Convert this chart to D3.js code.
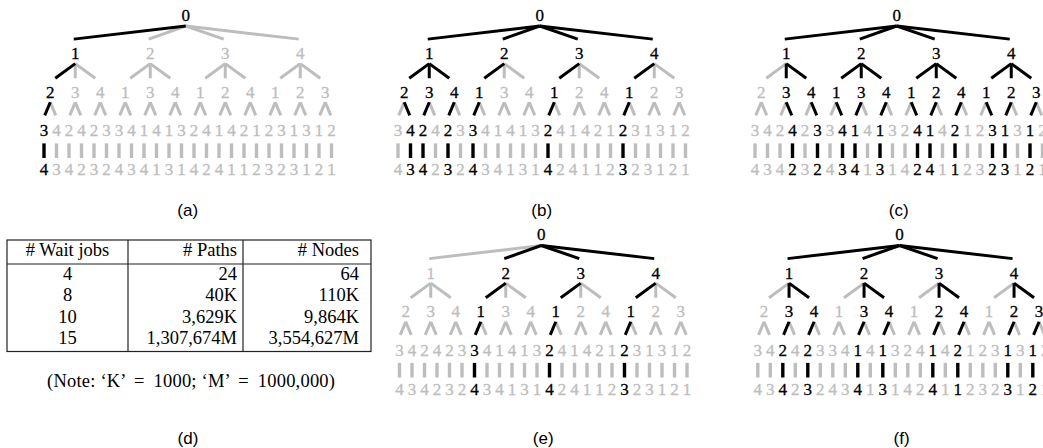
<!DOCTYPE html>
<html>
<head>
<meta charset="utf-8">
<script src="https://cdn.jsdelivr.net/npm/d3@7"></script>
<style>
  body { margin: 0; background: #fff; }
  svg { display: block; }
  .lbl { font-family: "Liberation Serif", "Times New Roman", serif; font-size: 17px; text-anchor: middle; stroke-width: 0.3px; }
  .cap { font-family: "Liberation Sans", Arial, sans-serif; font-size: 17px; text-anchor: middle; }
  .tbl { font-family: "Liberation Serif", "Times New Roman", serif; font-size: 18.5px; }
</style>
</head>
<body>
<svg id="fig" width="1043" height="448"></svg>
<script>
// node labels of the permutation tree, level by level, left to right
const level1 = [1, 2, 3, 4];
const level2 = [2, 3, 4, 1, 3, 4, 1, 2, 4, 1, 2, 3];
const level3 = [3, 4, 2, 4, 2, 3, 3, 4, 1, 4, 1, 3, 2, 4, 1, 4, 2, 1, 2, 3, 1, 3, 1, 2];
const level4 = [4, 3, 4, 2, 3, 2, 4, 3, 4, 1, 3, 1, 4, 2, 4, 1, 1, 2, 3, 2, 3, 1, 2, 1];

// leaves whose path from the root is drawn in black, per panel
const pathsA = [0];
const pathsB = [1, 2, 4, 6, 12, 18];
const pathsC = [3, 5, 7, 8, 10, 13, 14, 16, 19, 20, 22];
const pathsE = [6, 12, 18];
const pathsF = [2, 4, 8, 10, 14, 16, 20, 22];

// table (d)
const tableHeader = ["# Wait jobs", "# Paths", "# Nodes"];
const waitJobs = ["4", "8", "10", "15"];
const numPaths = ["24", "40K", "3,629K", "1,307,674M"];
const numNodes = ["64", "110K", "9,864K", "3,554,627M"];
const note = "(Note: \u2018K\u2019 \u2009=\u2009 1000; \u2018M\u2019 \u2009=\u2009 1000,000)";

const black = "#000",
  gray = "#bdbdbd";

const svg = d3.select("#fig");

function drawTree(left, top, paths, caption) {
  const g = svg.append("g");
  const x = d3.scaleLinear().domain([0, 23]).range([left, left + 23 * 12.5]);
  const y = d3.scaleLinear().domain([0, 4]).range([top + 20.5, top + 175]);

  const on3 = new Set(paths);
  const on2 = new Set(paths.map((p) => Math.floor(p / 2)));
  const on1 = new Set(paths.map((p) => Math.floor(p / 6)));

  const x3 = (k) => x(k);
  const x2 = (j) => x(2 * j + 0.5);
  const x1 = (i) => x(6 * i + 2.5);
  const x0 = x(11.5) - 2;

  const segs = [];
  level1.forEach(function (d, i) {
    segs.push({ x1: x0, y1: y(0) + 5.5, x2: x1(i) - 1.5, y2: y(1) - 20, on: on1.has(i), w: 3 });
  });
  level2.forEach(function (d, j) {
    const p = Math.floor(j / 3);
    segs.push({ x1: x1(p), y1: y(1) + 4.5, x2: x1(p) + 0.8 * (x2(j) - x1(p)), y2: y(2) - 19.5, on: on2.has(j), w: 3 });
  });
  level3.forEach(function (d, k) {
    const p = Math.floor(k / 2);
    segs.push({ x1: x2(p), y1: y(2) + 4.5, x2: x2(p) + 0.88 * (x3(k) - x2(p)), y2: y(3) - 21, on: on3.has(k), w: 3 });
    segs.push({ x1: x3(k), y1: y(3) + 7, x2: x3(k), y2: y(4) - 17, on: on3.has(k), w: 3.4 });
  });

  segs.sort((a, b) => a.on - b.on);

  g.selectAll("line")
    .data(segs)
    .join("line")
    .attr("x1", (d) => d.x1)
    .attr("y1", (d) => d.y1)
    .attr("x2", (d) => d.x2)
    .attr("y2", (d) => d.y2)
    .attr("stroke", (d) => (d.on ? black : gray))
    .attr("stroke-width", (d) => d.w);

  const labels = [{ t: 0, x: x0, y: y(0), on: true }];
  level1.forEach((d, i) => labels.push({ t: d, x: x1(i), y: y(1), on: on1.has(i) }));
  level2.forEach((d, j) => labels.push({ t: d, x: x2(j), y: y(2), on: on2.has(j) }));
  level3.forEach((d, k) => labels.push({ t: d, x: x3(k), y: y(3), on: on3.has(k) }));
  level4.forEach((d, k) => labels.push({ t: d, x: x3(k), y: y(4), on: on3.has(k) }));

  g.selectAll("text.lbl")
    .data(labels)
    .join("text")
    .attr("class", "lbl")
    .attr("x", (d) => d.x)
    .attr("y", (d) => d.y)
    .attr("fill", (d) => (d.on ? black : gray))
    .attr("stroke", (d) => (d.on ? black : gray))
    .text((d) => d.t);

  svg.append("text")
    .attr("class", "cap")
    .attr("x", x(11.5))
    .attr("y", top === 0 ? 216 : 443.5)
    .text(caption);
}

drawTree(44, 0, pathsA, "(a)");
drawTree(398, 0, pathsB, "(b)");
drawTree(755, 0, pathsC, "(c)");
drawTree(399.5, 219.5, pathsE, "(e)");
drawTree(757.8, 219.5, pathsF, "(f)");

// table (d)
const cols = [7, 128, 243, 371];
const rowY = d3.scaleLinear().domain([0, 3]).range([280, 344]);
const tbl = svg.append("g").attr("class", "tbl");

tbl.append("rect")
  .attr("x", cols[0])
  .attr("y", 240)
  .attr("width", cols[3] - cols[0])
  .attr("height", 351.5 - 240)
  .attr("fill", "none")
  .attr("stroke", "#222")
  .attr("stroke-width", 1.2);

tbl.append("line")
  .attr("x1", cols[0]).attr("x2", cols[3])
  .attr("y1", 264).attr("y2", 264)
  .attr("stroke", "#222").attr("stroke-width", 1.2);

tbl.selectAll("line.div")
  .data([cols[1], cols[2]])
  .join("line")
  .attr("class", "div")
  .attr("x1", (d) => d).attr("x2", (d) => d)
  .attr("y1", 240).attr("y2", 351.5)
  .attr("stroke", "#222").attr("stroke-width", 1.2);

function colText(values, col, ys) {
  tbl.selectAll(null)
    .data(values)
    .join("text")
    .attr("x", col === 0 ? (cols[0] + cols[1]) / 2 : cols[col + 1] - (col === 1 ? 6 : 12))
    .attr("y", (d, i) => ys(i))
    .attr("text-anchor", col === 0 ? "middle" : "end")
    .text((d) => d);
}

colText([tableHeader[0]], 0, () => 256);
colText([tableHeader[1]], 1, () => 256);
colText([tableHeader[2]], 2, () => 256);
colText(waitJobs, 0, rowY);
colText(numPaths, 1, rowY);
colText(numNodes, 2, rowY);

tbl.append("text")
  .attr("x", 47)
  .attr("y", 387)
  .attr("font-size", "18.5px")
  .attr("textLength", 288)
  .attr("lengthAdjust", "spacing")
  .style("white-space", "pre")
  .text(note);

svg.append("text")
  .attr("class", "cap")
  .attr("x", 188)
  .attr("y", 443.5)
  .text("(d)");
</script>
</body>
</html>
